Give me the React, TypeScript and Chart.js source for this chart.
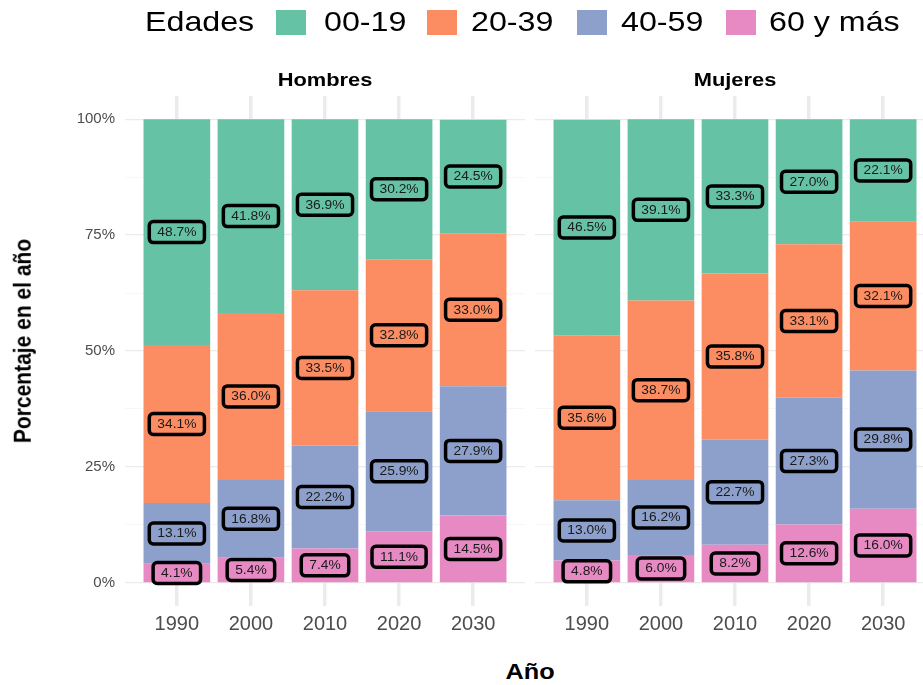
import React, { useEffect, useRef } from 'react';
import { Chart, registerables } from 'chart.js';

Chart.register(...registerables);

const years = ['1990', '2000', '2010', '2020', '2030'];
const groupNames = ['00-19', '20-39', '40-59', '60 y más'];
const groupColors = ['#66C2A5', '#FC8D62', '#8DA0CB', '#E78AC3'];

const hombres0019 = [48.7, 41.8, 36.9, 30.2, 24.5];
const hombres2039 = [34.1, 36.0, 33.5, 32.8, 33.0];
const hombres4059 = [13.1, 16.8, 22.2, 25.9, 27.9];
const hombres60 = [4.1, 5.4, 7.4, 11.1, 14.5];

const mujeres0019 = [46.5, 39.1, 33.3, 27.0, 22.1];
const mujeres2039 = [35.6, 38.7, 35.8, 33.1, 32.1];
const mujeres4059 = [13.0, 16.2, 22.7, 27.3, 29.8];
const mujeres60 = [4.8, 6.0, 8.2, 12.6, 16.0];

const yMajorTicks = [0, 25, 50, 75, 100];
const yMinorTicks = [12.5, 37.5, 62.5, 87.5];

const FONT = '"Liberation Sans", Arial, Helvetica, sans-serif';
const STRETCH = 1.15;

const labelPlugin = {
  id: 'boxLabels',
  afterDatasetsDraw(chart: any) {
    const ctx = chart.ctx;
    ctx.save();
    ctx.font = `12px ${FONT}`;
    ctx.textAlign = 'center';
    ctx.textBaseline = 'middle';
    chart.data.datasets.forEach((ds: any, di: number) => {
      const meta = chart.getDatasetMeta(di);
      meta.data.forEach((bar: any, i: number) => {
        const v = ds.data[i].y;
        const text = v.toFixed(1) + '%';
        const cx = bar.x;
        const cy = (bar.y + bar.base) / 2;
        const w = ctx.measureText(text).width * STRETCH + 16;
        const h = 21;
        const r = 4;
        const x0 = cx - w / 2;
        const y0 = cy - h / 2;
        ctx.beginPath();
        ctx.moveTo(x0 + r, y0);
        ctx.lineTo(x0 + w - r, y0);
        ctx.arcTo(x0 + w, y0, x0 + w, y0 + r, r);
        ctx.lineTo(x0 + w, y0 + h - r);
        ctx.arcTo(x0 + w, y0 + h, x0 + w - r, y0 + h, r);
        ctx.lineTo(x0 + r, y0 + h);
        ctx.arcTo(x0, y0 + h, x0, y0 + h - r, r);
        ctx.lineTo(x0, y0 + r);
        ctx.arcTo(x0, y0, x0 + r, y0, r);
        ctx.closePath();
        ctx.fillStyle = ds.backgroundColor;
        ctx.fill();
        ctx.lineWidth = 3.5;
        ctx.strokeStyle = '#000000';
        ctx.stroke();
        ctx.save();
        ctx.translate(cx, cy + 0.5);
        ctx.scale(STRETCH, 1);
        ctx.fillStyle = '#1a1a1a';
        ctx.fillText(text, 0, 0);
        ctx.restore();
      });
    });
    ctx.restore();
  },
};

function makeDatasets(series: number[][]) {
  // bottom to top: 60 y más, 40-59, 20-39, 00-19
  const order = [3, 2, 1, 0];
  return order.map((gi) => ({
    label: groupNames[gi],
    data: series[gi].map((v, i) => ({ x: i + 1, y: v })),
    backgroundColor: groupColors[gi],
    borderWidth: 0,
    categoryPercentage: 0.9,
    barPercentage: 1.0,
  }));
}

function buildConfig(series: number[][], showY: boolean): any {
  return {
    type: 'bar',
    data: { datasets: makeDatasets(series) },
    plugins: [labelPlugin],
    options: {
      animation: false,
      responsive: false,
      maintainAspectRatio: false,
      layout: { padding: { top: 96, right: 5, left: 0, bottom: 0 } },
      plugins: { legend: { display: false }, tooltip: { enabled: false }, title: { display: false } },
      scales: {
        x: {
          type: 'linear',
          stacked: true,
          offset: false,
          min: 0.3,
          max: 5.7,
          afterBuildTicks: (scale: any) => {
            scale.ticks = years.map((_, i) => ({ value: i + 1 }));
          },
          afterFit: (scale: any) => {
            scale.height = 44;
          },
          grid: { color: '#EBEBEB', lineWidth: 3.5, drawTicks: false, offset: false },
          border: { display: false },
          ticks: {
            autoSkip: false,
            maxRotation: 0,
            padding: 6,
            color: '#4D4D4D',
            font: { family: FONT, size: 20 },
            callback: (v: number) => years[Math.round(v) - 1] ?? '',
          },
        },
        y: {
          type: 'linear',
          stacked: true,
          min: -5,
          max: 105,
          afterBuildTicks: (scale: any) => {
            const all = [...yMajorTicks, ...yMinorTicks].sort((a, b) => a - b);
            scale.ticks = all.map((v) => ({ value: v }));
          },
          afterFit: (scale: any) => {
            scale.width = showY ? 125 : 5;
          },
          grid: {
            drawTicks: false,
            color: (c: any) => (c.tick && yMajorTicks.includes(c.tick.value) ? '#EBEBEB' : '#F5F5F5'),
            lineWidth: (c: any) => (c.tick && yMajorTicks.includes(c.tick.value) ? 1.3 : 0.8),
          },
          border: { display: false },
          ticks: {
            display: showY,
            autoSkip: false,
            padding: 10,
            color: '#4D4D4D',
            font: { family: FONT, size: 15 },
            callback: (v: number) => (yMajorTicks.includes(v) ? `${v}%` : ''),
          },
        },
      },
    },
  };
}

function Panel(props: { series: number[][]; showY: boolean; left: number; width: number }) {
  const ref = useRef<HTMLCanvasElement | null>(null);
  useEffect(() => {
    if (!ref.current) return;
    const chart = new Chart(ref.current, buildConfig(props.series, props.showY));
    return () => chart.destroy();
  }, []);
  return (
    <canvas
      ref={ref}
      width={props.width}
      height={650}
      style={{ position: 'absolute', left: props.left, top: 0, width: props.width, height: 650 }}
    />
  );
}

const stretchText = (extra: React.CSSProperties): React.CSSProperties => ({
  position: 'absolute',
  whiteSpace: 'nowrap',
  fontFamily: FONT,
  transform: `scaleX(${STRETCH})`,
  transformOrigin: 'left center',
  lineHeight: 1,
  color: '#000',
  ...extra,
});

export default function App() {
  const legendItems = [
    { sq: 276, tx: 324 },
    { sq: 427, tx: 471 },
    { sq: 577, tx: 621 },
    { sq: 726, tx: 769 },
  ];
  return (
    <div
      style={{
        position: 'absolute',
        left: 0,
        top: 0,
        width: 923,
        height: 685,
        overflow: 'hidden',
        background: '#ffffff',
      }}
    >
      <Panel series={[hombres0019, hombres2039, hombres4059, hombres60]} showY={true} left={0} width={530} />
      <Panel series={[mujeres0019, mujeres2039, mujeres4059, mujeres60]} showY={false} left={530} width={410} />

      {/* legend */}
      <div style={stretchText({ left: 145, top: 8, fontSize: 28 })}>Edades</div>
      {legendItems.map((it, i) => (
        <React.Fragment key={i}>
          <div
            style={{
              position: 'absolute',
              left: it.sq,
              top: 10,
              width: 30,
              height: 25,
              background: groupColors[i],
            }}
          />
          <div style={stretchText({ left: it.tx, top: 8, fontSize: 28 })}>{groupNames[i]}</div>
        </React.Fragment>
      ))}

      {/* strip titles */}
      <div
        style={{
          position: 'absolute',
          left: 125,
          width: 400,
          top: 70,
          textAlign: 'center',
          fontFamily: FONT,
          fontWeight: 'bold',
          fontSize: 19,
          lineHeight: '20px',
          transform: `scaleX(${STRETCH})`,
        }}
      >
        Hombres
      </div>
      <div
        style={{
          position: 'absolute',
          left: 535,
          width: 400,
          top: 70,
          textAlign: 'center',
          fontFamily: FONT,
          fontWeight: 'bold',
          fontSize: 19,
          lineHeight: '20px',
          transform: `scaleX(${STRETCH})`,
        }}
      >
        Mujeres
      </div>

      {/* y axis title */}
      <div
        style={{
          position: 'absolute',
          left: 22,
          top: 341,
          fontFamily: FONT,
          fontWeight: 'bold',
          fontSize: 21,
          lineHeight: 1,
          whiteSpace: 'nowrap',
          transform: `translate(-50%, -50%) rotate(-90deg) scaleY(${STRETCH})`,
        }}
      >
        Porcentaje en el año
      </div>

      {/* x axis title */}
      <div
        style={{
          position: 'absolute',
          left: 530,
          top: 672,
          fontFamily: FONT,
          fontWeight: 'bold',
          fontSize: 22,
          lineHeight: 1,
          whiteSpace: 'nowrap',
          transform: `translate(-50%, -50%) scaleX(${STRETCH})`,
        }}
      >
        Año
      </div>
    </div>
  );
}
